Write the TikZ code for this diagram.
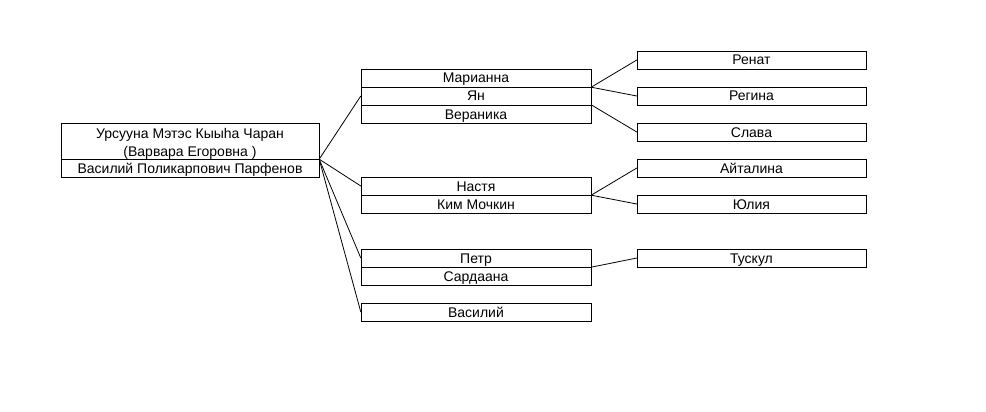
\documentclass[tikz,border=0pt]{standalone}
\usepackage{fontspec}
\setmainfont{Liberation Sans}
\usepackage{tikz}

\begin{document}
\begin{tikzpicture}[x=1pt, y=-1pt,
  pers/.style={draw, rectangle, inner sep=0pt, minimum width=230pt, minimum height=18pt,
    text height=11.5pt, text depth=1.5pt, font=\fontsize{14}{18}\selectfont},
  link/.style={line width=0.8pt}]
\useasboundingbox (0,0) rectangle (986,412);
% Родители
\node[pers, minimum width=258pt, minimum height=36pt, text height=31pt, text depth=1pt, align=center] (ursuuna) at (190,141) {Урсууна Мэтэс Кыыhа Чаран\\(Варвара Егоровна )};
\node[pers, minimum width=258pt] (parfenov) at (190,168) {Василий Поликарпович Парфенов};
% Дети и их супруги
\node[pers] (marianna) at (476,78) {Марианна};
\node[pers] (yan) at (476,96) {Ян};
\node[pers] (veranika) at (476,114) {Вераника};
\node[pers] (nastya) at (476,186) {Настя};
\node[pers] (kim) at (476,204) {Ким Мочкин};
\node[pers] (petr) at (476,258) {Петр};
\node[pers] (sardaana) at (476,276) {Сардаана};
\node[pers] (vasiliy) at (476,312) {Василий};
% Внуки
\node[pers, minimum width=229pt] (renat) at (751.5,60) {Ренат};
\node[pers, minimum width=229pt] (regina) at (751.5,96) {Регина};
\node[pers, minimum width=229pt] (slava) at (751.5,132) {Слава};
\node[pers, minimum width=229pt] (aytalina) at (751.5,168) {Айталина};
\node[pers, minimum width=229pt] (yuliya) at (751.5,204) {Юлия};
\node[pers, minimum width=229pt] (tuskul) at (751.5,258) {Тускул};
% Связи
\foreach \c in {yan, nastya, petr, vasiliy}
  \draw[link] (ursuuna.south east) -- (\c.west);
\draw[link] (marianna.south east) -- (renat.west);
\draw[link] (marianna.south east) -- (regina.west);
\draw[link] (veranika.north east) -- (slava.west);
\draw[link] (nastya.south east) -- (aytalina.west);
\draw[link] (nastya.south east) -- (yuliya.west);
\draw[link] (petr.south east) -- (tuskul.west);
\end{tikzpicture}
\end{document}
